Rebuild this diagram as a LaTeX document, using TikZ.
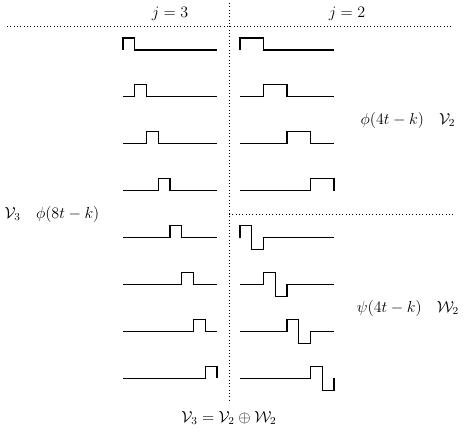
\documentclass[tikz,border=0pt]{standalone}
\usepackage{amsmath}
\usepackage{tikz}
\usetikzlibrary{positioning,calc}

\begin{document}
\begin{tikzpicture}[
  x=0.75pt, y=-0.75pt,
  sig/.style={line width=0.85pt},
  sep/.style={dotted, line width=0.5pt},
  lab/.style={inner sep=1pt, font=\fontsize{11.5}{13.8}\selectfont}
]
  \useasboundingbox (0,0) rectangle (465,440);
  % separators
  \draw[sep] (229,3) -- (229,402);
  \draw[sep] (7,26) -- (453,26);
  \draw[sep] (229,214) -- (453,214);
  % phi(8t-k), left column
  \foreach \k in {0,...,7} {
    \pgfmathsetmacro{\b}{50+46.9*\k}
    \pgfmathsetmacro{\xa}{123+11.75*\k}
    \pgfmathsetmacro{\xb}{123+11.75*(\k+1)}
    \draw[sig] (123,\b) -- (\xa,\b) -- (\xa,\b-12) -- (\xb,\b-12)
      -- (\xb,\b) -- (217,\b);
  }
  % phi(4t-k), right column top
  \foreach \k in {0,...,3} {
    \pgfmathsetmacro{\b}{50+46.9*\k}
    \pgfmathsetmacro{\xa}{240+23.5*\k}
    \pgfmathsetmacro{\xb}{240+23.5*(\k+1)}
    \draw[sig] (240,\b) -- (\xa,\b) -- (\xa,\b-12) -- (\xb,\b-12)
      -- (\xb,\b) -- (334,\b);
  }
  % psi(4t-k), right column bottom
  \foreach \k in {0,...,3} {
    \pgfmathsetmacro{\b}{50+46.9*(\k+4)}
    \pgfmathsetmacro{\xa}{240+23.5*\k}
    \pgfmathsetmacro{\xm}{240+23.5*\k+11.75}
    \pgfmathsetmacro{\xb}{240+23.5*(\k+1)}
    \draw[sig] (240,\b) -- (\xa,\b) -- (\xa,\b-12) -- (\xm,\b-12)
      -- (\xm,\b+12) -- (\xb,\b+12) -- (\xb,\b) -- (334,\b);
  }
  % labels
  \node[lab] (j3) at (170,14) {$j=3$};
  \node[lab] (j2) at (347,14) {$j=2$};
  \node[lab] (vleft) at (52,214) {$\mathcal{V}_3\quad\phi(8t-k)$};
  \node[lab] (vtwo) at (408,120) {$\phi(4t-k)\quad\mathcal{V}_2$};
  \node[lab] (wtwo) at (408,308) {$\psi(4t-k)\quad\mathcal{W}_2$};
  \node[lab] (sum) at (229,418) {$\mathcal{V}_3=\mathcal{V}_2\oplus\mathcal{W}_2$};
\end{tikzpicture}
\end{document}
